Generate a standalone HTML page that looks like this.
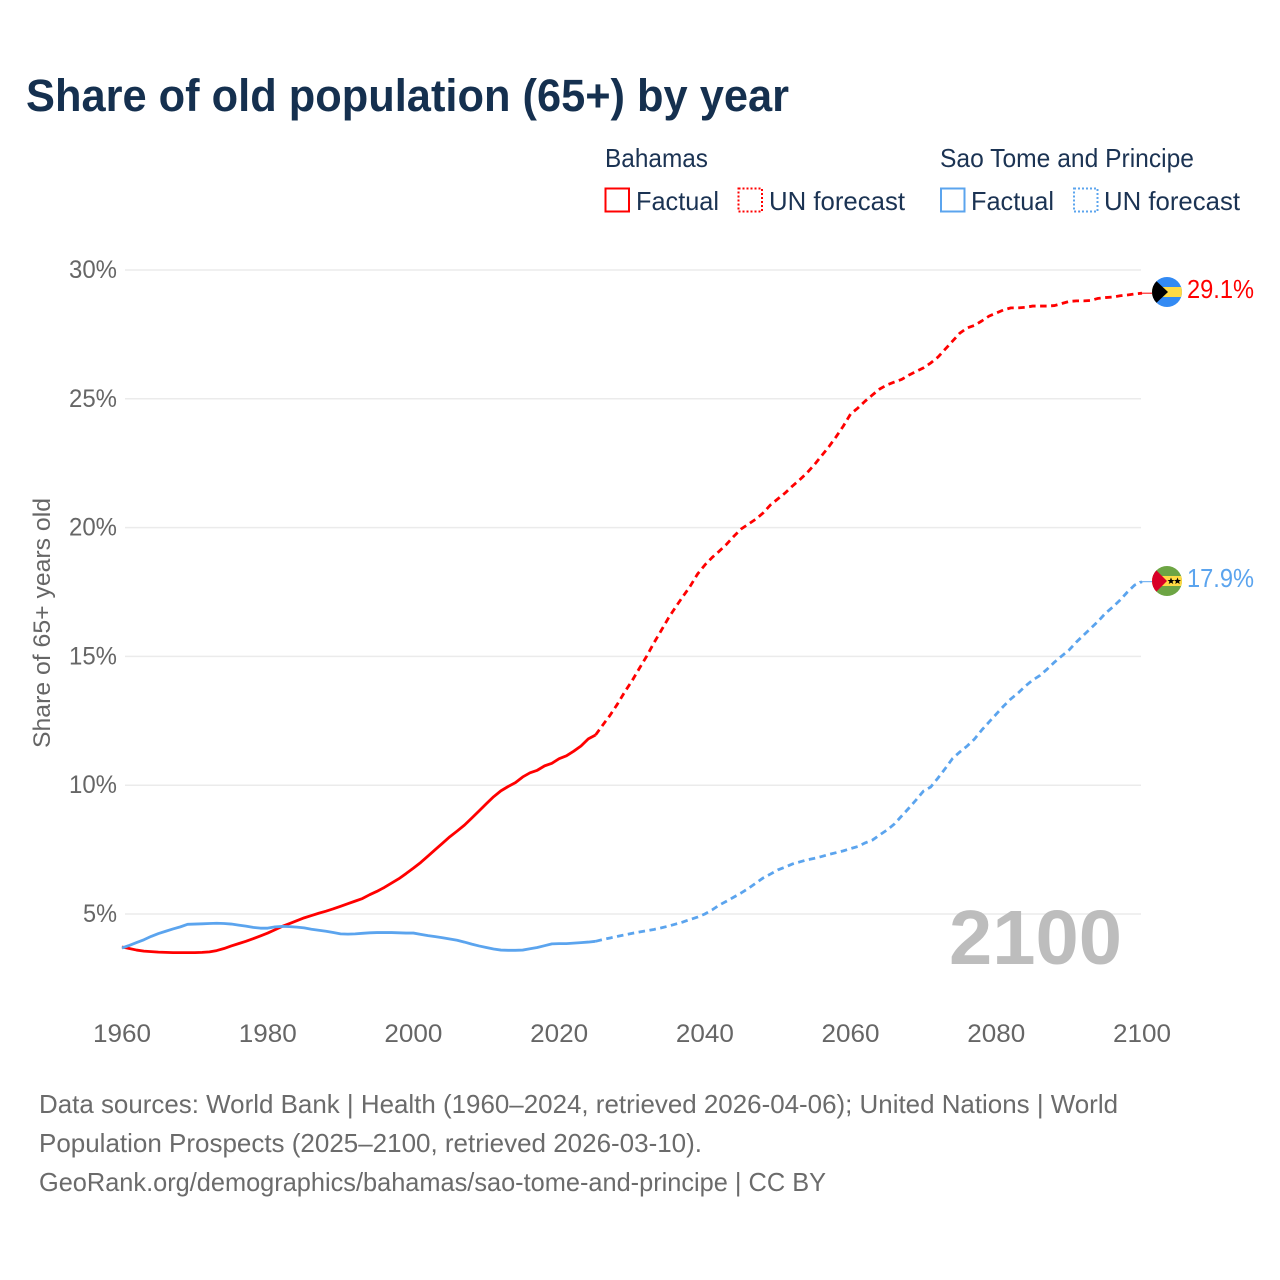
<!DOCTYPE html>
<html lang="en">
<head>
<meta charset="utf-8">
<title>Share of old population (65+) by year</title>
<style>
html,body{margin:0;padding:0;background:#fff;width:1280px;height:1280px;overflow:hidden}
svg{display:block;font-family:"Liberation Sans",sans-serif}
.legend-text{font-size:26px;fill:#1b3353}
.foot{font-size:26px;fill:#6b6b6b}
.tick{font-size:25px;fill:#666}
</style>
</head>
<body>
<svg id="chart" xmlns="http://www.w3.org/2000/svg" width="1280" height="1280" viewBox="0 0 1280 1280">
  <rect x="0" y="0" width="1280" height="1280" fill="#fff"/>
  <text x="26" y="111" font-size="45" font-weight="700" fill="#15304f" textLength="763" lengthAdjust="spacingAndGlyphs">Share of old population (65+) by year</text>

  <g>
    <text class="legend-text" x="605" y="167" textLength="103" lengthAdjust="spacingAndGlyphs">Bahamas</text>
    <rect x="605.5" y="188.5" width="23.5" height="23" fill="none" stroke="#ff0000" stroke-width="2"/>
    <text class="legend-text" x="636" y="210" textLength="83" lengthAdjust="spacingAndGlyphs">Factual</text>
    <rect x="738.5" y="188.5" width="23.5" height="23" fill="none" stroke="#ff0000" stroke-width="2" stroke-dasharray="2 2"/>
    <text class="legend-text" x="769" y="210" textLength="136" lengthAdjust="spacingAndGlyphs">UN forecast</text>

    <text class="legend-text" x="940" y="167" textLength="254" lengthAdjust="spacingAndGlyphs">Sao Tome and Principe</text>
    <rect x="941" y="188.5" width="23.5" height="23" fill="none" stroke="#5ba4ee" stroke-width="2"/>
    <text class="legend-text" x="971" y="210" textLength="83" lengthAdjust="spacingAndGlyphs">Factual</text>
    <rect x="1074" y="188.5" width="23.5" height="23" fill="none" stroke="#5ba4ee" stroke-width="2" stroke-dasharray="2 2"/>
    <text class="legend-text" x="1104" y="210" textLength="136" lengthAdjust="spacingAndGlyphs">UN forecast</text>
  </g>

  <g id="grid"></g>
  <g id="yTicks"></g>
  <g id="xTicks"></g>
  <text transform="translate(50,623) rotate(-90)" text-anchor="middle" font-size="24" fill="#666" textLength="250" lengthAdjust="spacingAndGlyphs">Share of 65+ years old</text>

  <text x="949" y="964" font-size="77" font-weight="700" fill="#bdbdbd" textLength="173" lengthAdjust="spacingAndGlyphs">2100</text>

  <g id="series"></g>

  <defs>
    <clipPath id="flagClipA"><circle cx="1167" cy="292" r="15"/></clipPath>
    <clipPath id="flagClipB"><circle cx="1167" cy="581" r="15"/></clipPath>
  </defs>
  <g clip-path="url(#flagClipA)">
    <rect x="1152" y="277" width="30" height="30" fill="#338af3"/>
    <rect x="1152" y="287" width="30" height="10" fill="#ffda44"/>
    <polygon points="1152,277 1168,292 1152,307" fill="#000"/>
  </g>
  <g clip-path="url(#flagClipB)">
    <rect x="1152" y="566" width="30" height="30" fill="#6da544"/>
    <rect x="1152" y="576" width="30" height="10" fill="#ffda44"/>
    <polygon points="1152,566 1167,581 1152,596" fill="#d80027"/>
    <polygon points="1171,577.5 1172,580 1174.5,580 1172.5,581.6 1173.3,584 1171,582.6 1168.7,584 1169.5,581.6 1167.5,580 1170,580" fill="#000"/>
    <polygon points="1177.5,577.5 1178.5,580 1181,580 1179,581.6 1179.8,584 1177.5,582.6 1175.2,584 1176,581.6 1174,580 1176.5,580" fill="#000"/>
  </g>
  <text id="labelA" x="1187" y="298" font-size="26" fill="#ff0000" textLength="67" lengthAdjust="spacingAndGlyphs">29.1%</text>
  <text id="labelB" x="1187" y="587" font-size="26" fill="#5ba4ee" textLength="67" lengthAdjust="spacingAndGlyphs">17.9%</text>

  <g>
    <text class="foot" x="39" y="1113" textLength="1079" lengthAdjust="spacingAndGlyphs">Data sources: World Bank | Health (1960–2024, retrieved 2026-04-06); United Nations | World</text>
    <text class="foot" x="39" y="1152" textLength="663" lengthAdjust="spacingAndGlyphs">Population Prospects (2025–2100, retrieved 2026-03-10).</text>
    <text class="foot" x="39" y="1191" textLength="787" lengthAdjust="spacingAndGlyphs">GeoRank.org/demographics/bahamas/sao-tome-and-principe | CC BY</text>
  </g>
</svg>
<script>
var yTickValues = [5, 10, 15, 20, 25, 30];
var xTickValues = [1960, 1980, 2000, 2020, 2040, 2060, 2080, 2100];
var factualStartYear = 1960;
var forecastStartYear = 2025;

var bahamasFactual = [
  3.72,3.66,3.6,3.56,3.54,3.52,3.51,3.5,3.5,3.5,
  3.5,3.51,3.53,3.58,3.66,3.76,3.85,3.94,4.04,4.15,
  4.26,4.39,4.52,4.63,4.74,4.85,4.94,5.03,5.11,5.2,
  5.3,5.4,5.5,5.6,5.75,5.88,6.03,6.2,6.37,6.57,
  6.78,7.0,7.25,7.5,7.75,8.0,8.22,8.45,8.72,9.0,
  9.28,9.55,9.78,9.95,10.1,10.32,10.48,10.58,10.75,10.85,
  11.03,11.14,11.32,11.52,11.8,11.95
];
var bahamasForecast = [
  11.95,12.34,12.72,13.15,13.62,14.05,14.53,15.0,15.52,16.0,
  16.49,16.92,17.33,17.73,18.2,18.55,18.84,19.09,19.36,19.67,
  19.95,20.14,20.33,20.57,20.88,21.11,21.34,21.61,21.85,22.12,
  22.43,22.78,23.13,23.52,23.94,24.41,24.64,24.91,25.15,25.38,
  25.54,25.65,25.75,25.92,26.06,26.2,26.39,26.62,26.93,27.24,
  27.55,27.75,27.85,28.02,28.21,28.33,28.45,28.53,28.53,28.55,
  28.6,28.6,28.6,28.62,28.7,28.78,28.8,28.8,28.82,28.9,
  28.93,28.95,29.0,29.03,29.07,29.1
];
var saoTomeFactual = [
  3.68,3.78,3.89,4.0,4.13,4.24,4.33,4.42,4.5,4.6,
  4.61,4.62,4.63,4.64,4.63,4.61,4.57,4.53,4.48,4.45,
  4.45,4.5,4.52,4.51,4.49,4.46,4.41,4.37,4.33,4.28,
  4.23,4.22,4.23,4.25,4.27,4.28,4.28,4.28,4.27,4.26,
  4.26,4.21,4.16,4.12,4.08,4.03,3.98,3.91,3.83,3.76,
  3.7,3.64,3.6,3.59,3.59,3.6,3.65,3.7,3.77,3.84,
  3.85,3.85,3.87,3.89,3.91,3.94
];
var saoTomeForecast = [
  3.94,4.01,4.07,4.13,4.19,4.25,4.3,4.35,4.4,4.46,
  4.53,4.61,4.69,4.79,4.88,5.0,5.16,5.35,5.5,5.66,
  5.82,6.0,6.2,6.4,6.55,6.71,6.82,6.94,7.02,7.1,
  7.16,7.23,7.31,7.38,7.45,7.54,7.62,7.76,7.87,8.07,
  8.26,8.49,8.8,9.11,9.43,9.77,9.93,10.28,10.65,11.04,
  11.29,11.52,11.79,12.14,12.45,12.76,13.07,13.35,13.58,13.85,
  14.08,14.26,14.51,14.78,15.02,15.25,15.56,15.83,16.1,16.37,
  16.68,16.92,17.19,17.5,17.77,17.9
];

var NS = 'http://www.w3.org/2000/svg';
var RED = '#ff0000';
var BLUE = '#5ba4ee';

function xScale(year) { return 122 + (year - 1960) * (1142 - 122) / 140; }
function yScale(value) { return 914 - (value - 5) * (914 - 270) / 25; }

function linePath(values, startYear) {
  var d = '';
  for (var i = 0; i < values.length; i++) {
    d += (i ? 'L' : 'M') + xScale(startYear + i).toFixed(2) + ' ' + yScale(values[i]).toFixed(2);
  }
  return d;
}

var grid = document.getElementById('grid');
var yTicks = document.getElementById('yTicks');
var xTicks = document.getElementById('xTicks');
var series = document.getElementById('series');

yTickValues.forEach(function (v) {
  var line = document.createElementNS(NS, 'line');
  
  
  line.setAttribute('x1', 125);
  line.setAttribute('x2', 1141);
  line.setAttribute('y1', yScale(v));
  line.setAttribute('y2', yScale(v));
  line.setAttribute('stroke', '#ebebeb');
  line.setAttribute('stroke-width', 1.5);
  grid.appendChild(line);

  var label = document.createElementNS(NS, 'text');
  
  
  var str = v + '%';
  var w = (str.length - 1) * 14 + 20;
  label.setAttribute('class', 'tick');
  label.setAttribute('x', 117 - w);
  label.setAttribute('y', yScale(v) + 8);
  label.setAttribute('textLength', w);
  label.setAttribute('lengthAdjust', 'spacingAndGlyphs');
  label.textContent = str;
  yTicks.appendChild(label);
});

xTickValues.forEach(function (yr) {
  var label = document.createElementNS(NS, 'text');
  
  
  label.setAttribute('class', 'tick');
  label.setAttribute('x', xScale(yr) - 29);
  label.setAttribute('y', 1042);
  label.setAttribute('textLength', 58);
  label.setAttribute('lengthAdjust', 'spacingAndGlyphs');
  label.textContent = String(yr);
  xTicks.appendChild(label);
});

function addLine(name, values, startYear, color, dashed) {
  var p = document.createElementNS(NS, 'path');
  p.setAttribute('d', linePath(values, startYear));
  p.setAttribute('fill', 'none');
  p.setAttribute('stroke', color);
  p.setAttribute('stroke-width', 2.8);
  p.setAttribute('stroke-linejoin', 'round');
  if (dashed) p.setAttribute('stroke-dasharray', '6.5 4.5');
  
  
  series.appendChild(p);
}

function addConnector(name, value, color) {
  var c = document.createElementNS(NS, 'line');
  
  
  c.setAttribute('x1', xScale(2099.6));
  c.setAttribute('x2', 1152);
  c.setAttribute('y1', yScale(value));
  c.setAttribute('y2', yScale(value));
  c.setAttribute('stroke', color);
  c.setAttribute('stroke-width', 1);
  series.appendChild(c);
}

addLine('bahamas-forecast-line', bahamasForecast, forecastStartYear, RED, true);
addLine('bahamas-factual-line', bahamasFactual, factualStartYear, RED, false);
addLine('sao-tome-forecast-line', saoTomeForecast, forecastStartYear, BLUE, true);
addLine('sao-tome-factual-line', saoTomeFactual, factualStartYear, BLUE, false);
addConnector('bahamas-flag-connector', bahamasForecast[bahamasForecast.length - 1], RED);
addConnector('sao-tome-flag-connector', saoTomeForecast[saoTomeForecast.length - 1], BLUE);

document.getElementById('labelA').textContent = bahamasForecast[bahamasForecast.length - 1].toFixed(1) + '%';
document.getElementById('labelB').textContent = saoTomeForecast[saoTomeForecast.length - 1].toFixed(1) + '%';
</script>
</body>
</html>
